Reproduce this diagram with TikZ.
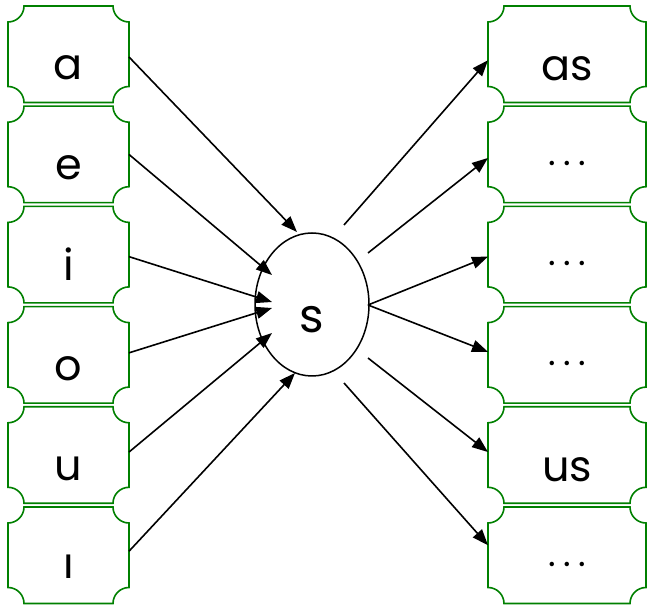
\documentclass[tikz,border=0pt]{standalone}
\usepackage{fontspec}
\setmainfont{Poppins}
\usetikzlibrary{arrows.meta,shapes.geometric,calc}
\newcommand\gothicfont[1]{\fontsize{#1}{#1}\selectfont}
\newcommand\threedots{\makebox[15pt]{.}\makebox[15pt]{.}\makebox[15pt]{.}}
\definecolor{boxgreen}{RGB}{0,128,0}
\tikzset{
  lbox/.style={draw=none,inner sep=0pt,outer sep=0pt,minimum width=121pt,minimum height=96.5pt},
  rbox/.style={draw=none,inner sep=0pt,outer sep=0pt,minimum width=158pt,minimum height=96.5pt},
  boxline/.style={draw=boxgreen,line width=1.6pt},
  txt/.style={inner sep=0pt,anchor=base,font=\gothicfont{43pt}},
  dots/.style={inner sep=0pt,anchor=base,font=\gothicfont{36pt}},
  snode/.style={draw,ellipse,line width=1.5pt,inner sep=0pt,minimum width=114pt,minimum height=143pt},
  conn/.style={line width=1.6pt,-{Triangle[length=16pt,width=12pt]}},
}
\newcommand\scalloped[1]{%
  \draw[boxline] ([yshift=-16pt]#1.north west) arc[start angle=-90,end angle=0,radius=16pt]
    -- ([xshift=-16pt]#1.north east) arc[start angle=180,end angle=270,radius=16pt]
    -- ([yshift=16pt]#1.south east) arc[start angle=90,end angle=180,radius=16pt]
    -- ([xshift=16pt]#1.south west) arc[start angle=0,end angle=90,radius=16pt]
    -- cycle;}
\begin{document}
\begin{tikzpicture}[x=1pt,y=1pt]
\useasboundingbox (0,0) rectangle (649,606);
% left boxes
\node[lbox] (a) at (68.5,551.75) {};
\node[lbox] (e) at (68.5,451.55) {};
\node[lbox] (i) at (68.5,351.35) {};
\node[lbox] (o) at (68.5,251.15) {};
\node[lbox] (u) at (68.5,150.95) {};
\node[lbox] (dl) at (68.5,50.75) {};
% right boxes
\node[rbox] (r1) at (567,551.75) {};
\node[rbox] (r2) at (567,451.55) {};
\node[rbox] (r3) at (567,351.35) {};
\node[rbox] (r4) at (567,251.15) {};
\node[rbox] (r5) at (567,150.95) {};
\node[rbox] (r6) at (567,50.75) {};
\foreach \n in {a,e,i,o,u,dl,r1,r2,r3,r4,r5,r6} {\scalloped{\n}}
% labels
\node[txt] (ta) at ([yshift=-25.5pt]a.center) {a};
\node[txt] (te) at ([yshift=-25.5pt]e.center) {e};
\node[txt] (ti) at ([yshift=-25.5pt]i.center) {i};
\node[txt] (to) at ([yshift=-25.5pt]o.center) {o};
\node[txt] (tu) at ([yshift=-25.5pt]u.center) {u};
\node[txt] (tdl) at ([yshift=-23.5pt]dl.center) {ı};
\node[txt] (t1) at ([yshift=-26.5pt]r1.center) {as};
\node[dots] (t2) at ([yshift=-11pt]r2.center) {\threedots};
\node[dots] (t3) at ([yshift=-11pt]r3.center) {\threedots};
\node[dots] (t4) at ([yshift=-11pt]r4.center) {\threedots};
\node[txt] (t5) at ([yshift=-26.5pt]r5.center) {us};
\node[dots] (t6) at ([yshift=-11pt]r6.center) {\threedots};
% centre
\node[snode] (s) at (312,301.5) {};
\node[txt,font=\gothicfont{47pt}] (ts) at ([yshift=-28pt]s.center) {s};
% ends near s
\coordinate (ia) at ($(s.center)+(-15,72.5)$);
\coordinate (ie) at ($(s.center)+(-40,29.5)$);
\coordinate (ii) at ($(s.center)+(-40,2.5)$);
\coordinate (io) at ($(s.center)+(-40,-3.5)$);
\coordinate (iu) at ($(s.center)+(-40,-28.5)$);
\coordinate (idl) at ($(s.center)+(-17,-68.5)$);
\coordinate (o1) at ($(s.center)+(32,79.5)$);
\coordinate (o2) at ($(s.center)+(56,51.5)$);
\coordinate (o3) at ($(s.center)+(56,-0.5)$);
\coordinate (o5) at ($(s.center)+(56,-53.5)$);
\coordinate (o6) at ($(s.center)+(32,-78.5)$);
% incoming
\draw[conn] ([yshift=-2.75pt]a.east) -- (ia);
\draw[conn] (e.east) -- (ie);
\draw[conn] ([yshift=-2pt]i.east) -- (ii);
\draw[conn] ([yshift=2pt]o.east) -- (io);
\draw[conn] ([yshift=3pt]u.east) -- (iu);
\draw[conn] ([yshift=4pt]dl.east) -- (idl);
% outgoing
\draw[conn] (o1) -- ([yshift=-6pt]r1.west);
\draw[conn] (o2) -- ([yshift=-3.5pt]r2.west);
\draw[conn] (o3) -- ([yshift=-2pt]r3.west);
\draw[conn] (o3) -- ([yshift=3pt]r4.west);
\draw[conn] (o5) -- ([yshift=3pt]r5.west);
\draw[conn] (o6) -- ([yshift=10pt]r6.west);
\end{tikzpicture}
\end{document}
